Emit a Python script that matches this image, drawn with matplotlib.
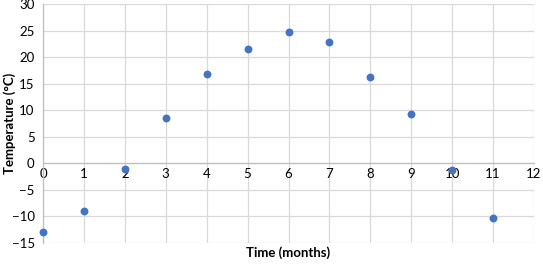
import matplotlib
matplotlib.use("Agg")
import matplotlib.pyplot as plt

months = [0, 1, 2, 3, 4, 5, 6, 7, 8, 9, 10, 11]
temps = [-13.0, -9.0, -1.1, 8.5, 16.8, 21.5, 24.7, 22.8, 16.2, 9.2, -1.2, -10.2]
x_ticks = list(range(0, 13))
y_ticks = list(range(-15, 31, 5))

plt.rcParams['font.family'] = ['Lato', 'DejaVu Sans']

fig = plt.figure(figsize=(5.43, 2.66), dpi=100)
W, H = 543, 266
ax = fig.add_axes([43 / W, 1 - 243 / H, (534 - 43) / W, (243 - 4) / H])

ax.scatter(months, temps, s=32, color='#4472C4', zorder=3, linewidths=0, clip_on=False)

ax.set_xlim(0, 12)
ax.set_ylim(-15, 30)
ax.set_xticks(x_ticks)
ax.set_yticks(y_ticks)
ax.grid(True, color='#d9d9d9', linewidth=0.9, zorder=0)
ax.set_axisbelow(True)

for s in ['top', 'right']:
    ax.spines[s].set_visible(False)
ax.spines['left'].set_position(('data', 0))
ax.spines['bottom'].set_position(('data', 0))
ax.spines['left'].set_color('#bfbfbf')
ax.spines['bottom'].set_color('#bfbfbf')
ax.spines['left'].set_linewidth(0.9)
ax.spines['bottom'].set_linewidth(0.9)

ax.tick_params(axis='both', length=0, labelsize=9.5, colors='#595959', labelcolor='#000000')
ax.tick_params(axis='x', pad=3)
ax.tick_params(axis='y', pad=6)

fig.text(288 / W, 1 - 253 / H, 'Time (months)', ha='center', va='center', fontsize=9.5, fontweight='bold')
fig.text(10 / W, 1 - 123 / H, 'Temperature (°C)', ha='center', va='center', fontsize=9.5, fontweight='bold', rotation=90)

fig.savefig('out.png', dpi=100)
